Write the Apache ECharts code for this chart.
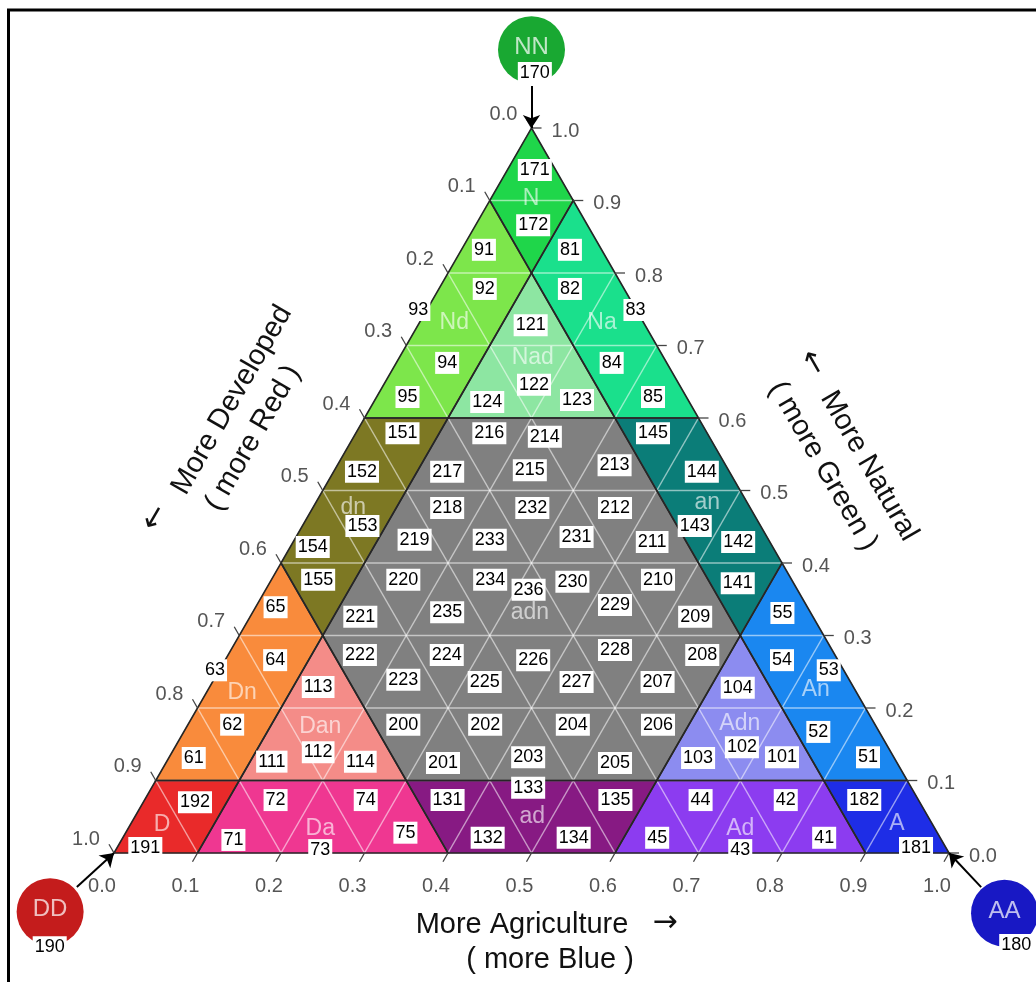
<!DOCTYPE html>
<html><head><meta charset="utf-8">
<script src="https://cdn.jsdelivr.net/npm/echarts@6/dist/echarts.min.js"></script>
<style>html,body{margin:0;padding:0;background:#fff}#c{width:1036px;height:982px}</style>
</head><body><div id="c"></div>
<script>
// Ternary coordinates are [a (agriculture), n (natural)]; developed d = 1 - a - n.
const tickValues = [0, 0.1, 0.2, 0.3, 0.4, 0.5, 0.6, 0.7, 0.8, 0.9, 1];
const tickLabels = ['0.0','0.1','0.2','0.3','0.4','0.5','0.6','0.7','0.8','0.9','1.0'];

const regionNames = ['N','Nd','Na','Nad','dn','an','adn','Dn','Dan','D','Da','ad','Ad','Adn','An','A'];
const regionVertices = [
  [[0,1],[0.1,0.9],[0.1,0.8],[0,0.9]],
  [[0,0.9],[0.1,0.8],[0.1,0.6],[0,0.6]],
  [[0.1,0.9],[0.4,0.6],[0.3,0.6],[0.1,0.8]],
  [[0.1,0.8],[0.3,0.6],[0.1,0.6]],
  [[0,0.6],[0.1,0.6],[0.1,0.3],[0,0.4]],
  [[0.3,0.6],[0.4,0.6],[0.6,0.4],[0.6,0.3]],
  [[0.1,0.6],[0.3,0.6],[0.6,0.3],[0.6,0.1],[0.3,0.1],[0.1,0.3]],
  [[0,0.4],[0.1,0.3],[0.1,0.1],[0,0.1]],
  [[0.1,0.3],[0.3,0.1],[0.1,0.1]],
  [[0,0.1],[0.1,0.1],[0.1,0],[0,0]],
  [[0.1,0.1],[0.3,0.1],[0.4,0],[0.1,0]],
  [[0.3,0.1],[0.6,0.1],[0.6,0],[0.4,0]],
  [[0.6,0.1],[0.8,0.1],[0.9,0],[0.6,0]],
  [[0.6,0.3],[0.8,0.1],[0.6,0.1]],
  [[0.6,0.4],[0.9,0.1],[0.8,0.1],[0.6,0.3]],
  [[0.8,0.1],[0.9,0.1],[1,0],[0.9,0]]
];
// class-name label positions [name, a, n]
const regionLabelPoints = [
  ['N',0.048,0.903],['Nd',0.042,0.731],['Na',0.219,0.731],['Nad',0.160,0.683],
  ['dn',0.048,0.477],['an',0.469,0.483],['adn',0.332,0.332],
  ['Dn',0.043,0.221],['An',0.728,0.225],['Dan',0.160,0.174],['Adn',0.660,0.179],
  ['D',0.038,0.039],['Da',0.230,0.034],['ad',0.476,0.050],['Ad',0.733,0.034],['A',0.917,0.041]
];
// cell code labels [code, a, n]
const cellCodes = [
  [171,0.033,0.942],[172,0.069,0.866],[91,0.027,0.832],[81,0.130,0.832],
  [92,0.055,0.778],[82,0.157,0.778],[93,-0.010,0.749],[83,0.250,0.749],
  [121,0.135,0.728],[94,0.061,0.676],[84,0.258,0.676],[122,0.180,0.646],
  [95,0.037,0.629],[124,0.136,0.622],[123,0.242,0.625],[85,0.331,0.629],
  [151,0.056,0.579],[216,0.160,0.579],[214,0.229,0.574],[145,0.356,0.579],
  [152,0.034,0.526],[217,0.136,0.526],[215,0.234,0.528],[213,0.332,0.535],[144,0.441,0.526],
  [153,0.072,0.451],[218,0.161,0.476],[232,0.263,0.476],[212,0.362,0.476],
  [143,0.470,0.451],[142,0.533,0.429],[211,0.430,0.429],[231,0.336,0.436],
  [233,0.234,0.432],[219,0.144,0.432],[154,0.027,0.422],
  [155,0.056,0.377],[220,0.158,0.377],[234,0.262,0.377],[236,0.315,0.363],
  [230,0.362,0.374],[210,0.463,0.377],[141,0.561,0.372],
  [65,0.024,0.339],[221,0.132,0.326],[235,0.233,0.332],[229,0.429,0.342],
  [209,0.533,0.326],[55,0.635,0.331],
  [64,0.060,0.266],[63,-0.005,0.252],[222,0.158,0.273],[113,0.130,0.229],
  [223,0.227,0.239],[224,0.262,0.273],[225,0.326,0.236],[226,0.369,0.266],
  [227,0.436,0.236],[228,0.460,0.280],[207,0.533,0.236],[208,0.568,0.273],
  [104,0.633,0.228],[54,0.667,0.266],[53,0.730,0.252],
  [62,0.053,0.177],[61,0.030,0.131],[112,0.175,0.139],[111,0.126,0.126],
  [114,0.232,0.126],[200,0.258,0.177],[201,0.332,0.124],[202,0.356,0.177],
  [203,0.430,0.132],[204,0.461,0.177],[205,0.538,0.124],[206,0.563,0.177],
  [103,0.634,0.131],[102,0.679,0.146],[101,0.734,0.132],[52,0.760,0.167],[51,0.837,0.132],
  [192,0.062,0.070],[191,0.034,0.007],[71,0.134,0.018],[72,0.157,0.073],
  [73,0.245,0.004],[74,0.265,0.073],[75,0.335,0.028],[131,0.363,0.073],
  [132,0.437,0.021],[133,0.451,0.090],[134,0.540,0.021],[135,0.564,0.073],
  [45,0.640,0.021],[44,0.666,0.073],[42,0.768,0.073],[43,0.748,0.004],
  [41,0.840,0.021],[182,0.862,0.073],[181,0.957,0.007]
];
// pure end-member markers
const cornerNames = ['NN','DD','AA'];
const cornerCenters = [[-0.054,1.108],[-0.036,-0.081],[1.108,-0.083]];
const cornerCodes = [[170,-0.034,1.076],[190,-0.012,-0.130],[180,1.144,-0.127]];
const cornerArrows = [
  [[-0.029,1.058],[0,1]],
  [[-0.021,-0.047],[0,0]],
  [[1.062,-0.047],[1,0]]
];

// ---- styles ----
const FONT = "'Liberation Sans', Arial, Helvetica, sans-serif";
const ARROWFONT = "'DejaVu Sans', sans-serif";
const regionColors = {
  N:'#1fd64a', Nd:'#7de64b', Na:'#1ae08c', Nad:'#8de6a2',
  dn:'#7d7823', an:'#0b7d78', adn:'#808080',
  Dn:'#f98b3c', Dan:'#f48c88', D:'#e92a2a', Da:'#ef3791',
  ad:'#871a83', Ad:'#8c3cf0', Adn:'#8c8cf0', An:'#1a87f0', A:'#1e2de6'
};
const cornerColors = {NN:'#19a832', DD:'#c41c1c', AA:'#1818c4'};

const toXY = p => [p[0] + p[1] / 2, p[1]];

const gridSegs = [];
tickValues.forEach(v => {
  if (v <= 0 || v >= 1) return;
  gridSegs.push([[0, v], [1 - v, v]]);
  gridSegs.push([[v, 0], [v, 1 - v]]);
  gridSegs.push([[0, 1 - v], [1 - v, 0]]);
});
const TL = 0.012;
const tickSegs = [];
tickValues.forEach(v => {
  tickSegs.push([[v, 0], [v, -TL]]);                 // bottom (a)
  tickSegs.push([[0, 1 - v], [-TL, 1 - v + TL]]);    // left (d)
  tickSegs.push([[1 - v, v], [1 - v + TL, v]]);      // right (n)
});

function segRender(list, style) {
  return function (params, api) {
    const s = list[params.dataIndex];
    const p1 = api.coord(toXY(s[0])), p2 = api.coord(toXY(s[1]));
    return {type:'line', shape:{x1:p1[0], y1:p1[1], x2:p2[0], y2:p2[1]}, style: style};
  };
}
function polyRender(fill) {
  return function (params, api) {
    const verts = regionVertices[params.dataIndex];
    const pts = verts.map(v => api.coord(toXY(v)));
    const name = regionNames[params.dataIndex];
    return {type:'polygon', shape:{points:pts},
      style: fill ? {fill: regionColors[name], stroke: regionColors[name], lineWidth: 0.5}
                  : {fill:'none', stroke:'#262626', lineWidth:1.6}};
  };
}
const hiddenSym = {symbolSize: 1, itemStyle: {color:'rgba(0,0,0,0)', opacity: 1}, silent: true};

function tickLabelSeries(edgeFn, offset) {
  return Object.assign({
    type:'scatter', z: 6, clip:false,
    data: tickValues.map((v, i) => ({name: tickLabels[i], value: toXY(edgeFn(v))})),
    label: {show:true, position:'inside', formatter:'{b}', offset: offset,
      fontFamily: FONT, fontSize: 20, color:'#555', opacity:1}
  }, hiddenSym);
}
function textEl(x, y, rot, text, font) {
  return {type:'text', x:x, y:y, rotation:rot, z:10,
    style:{text:text, font:font, fill:'#111', align:'center', verticalAlign:'middle',
      textAlign:'center', textVerticalAlign:'middle'}};
}

const option = {
  animation: false,
  backgroundColor: '#fff',
  grid: {left: 114, top: 128, width: 835, height: 725},
  xAxis: {type:'value', min:0, max:1, show:false},
  yAxis: {type:'value', min:0, max:1, show:false},
  graphic: [
    {type:'rect', z:0, shape:{x:8.5, y:10, width:1200, height:1200},
     style:{fill:'none', stroke:'#000', lineWidth:3}},
    textEl(232, 400, Math.PI/3, 'More Developed', '29px ' + FONT),
    textEl(253, 438, Math.PI/3, '( more Red )', '29px ' + FONT),
    textEl(155, 518, Math.PI/3, '\u2190', '30px ' + ARROWFONT),
    textEl(869, 466, -Math.PI/3, 'More Natural', '29px ' + FONT),
    textEl(823, 466, -Math.PI/3, '( more Green )', '29px ' + FONT),
    textEl(812, 363, -Math.PI/3, '\u2190', '30px ' + ARROWFONT),
    textEl(522, 925, 0, 'More Agriculture', '29px ' + FONT),
    textEl(665, 923, 0, '\u2192', '30px ' + ARROWFONT),
    textEl(550, 960, 0, '( more Blue )', '29px ' + FONT)
  ],
  series: [
    {type:'custom', z:1, silent:true, clip:false, renderItem: polyRender(true),
     data: regionVertices.map(v => toXY(v[0]))},
    {type:'custom', z:2, silent:true, clip:false,
     renderItem: segRender(gridSegs, {stroke:'rgba(255,255,255,0.55)', lineWidth:1.5}),
     data: gridSegs.map(s => toXY(s[0]))},
    {type:'custom', z:3, silent:true, clip:false, renderItem: polyRender(false),
     data: regionVertices.map(v => toXY(v[0]))},
    {type:'custom', z:3, silent:true, clip:false,
     renderItem: segRender(tickSegs, {stroke:'#444', lineWidth:1.3}),
     data: tickSegs.map(s => toXY(s[0]))},
    tickLabelSeries(v => [v, 0], [-12, 33]),
    tickLabelSeries(v => [0, 1 - v], [-28, -14]),
    tickLabelSeries(v => [1 - v, v], [34, 3]),
    {type:'lines', coordinateSystem:'cartesian2d', z:4, silent:true, clip:false,
     symbol:['none','arrow'], symbolSize:13,
     lineStyle:{color:'#000', width:2, opacity:1},
     data: cornerArrows.map(a => ({coords:[toXY(a[0]), toXY(a[1])]}))},
    {type:'scatter', z:5, silent:true, clip:false, symbol:'circle', symbolSize:67,
     data: cornerNames.map((nm, i) => ({name:nm, value: toXY(cornerCenters[i]),
       itemStyle:{color: cornerColors[nm], opacity:1}})),
     label:{show:true, position:'inside', formatter:'{b}', fontFamily:FONT, fontSize:24,
       color:'rgba(255,255,255,0.72)', offset:[0,-2], opacity:1}},
    Object.assign({type:'scatter', z:6, clip:false,
     data: regionLabelPoints.map(p => ({name:p[0], value: toXY([p[1], p[2]])})),
     label:{show:true, position:'inside', formatter:'{b}', fontFamily:FONT, fontSize:23,
       color:'rgba(255,255,255,0.62)', opacity:1}}, hiddenSym),
    Object.assign({type:'scatter', z:7, clip:false,
     data: cellCodes.concat(cornerCodes).map(p => ({name:String(p[0]), value: toXY([p[1], p[2]])})),
     label:{show:true, position:'inside', formatter:'{b}', fontFamily:FONT, fontSize:18,
       lineHeight:19, color:'#000', backgroundColor:'#fff', padding:[2,2,1,2], opacity:1}}, hiddenSym)
  ]
};
const chart = echarts.init(document.getElementById('c'));
chart.setOption(option);
</script>
</body></html>
